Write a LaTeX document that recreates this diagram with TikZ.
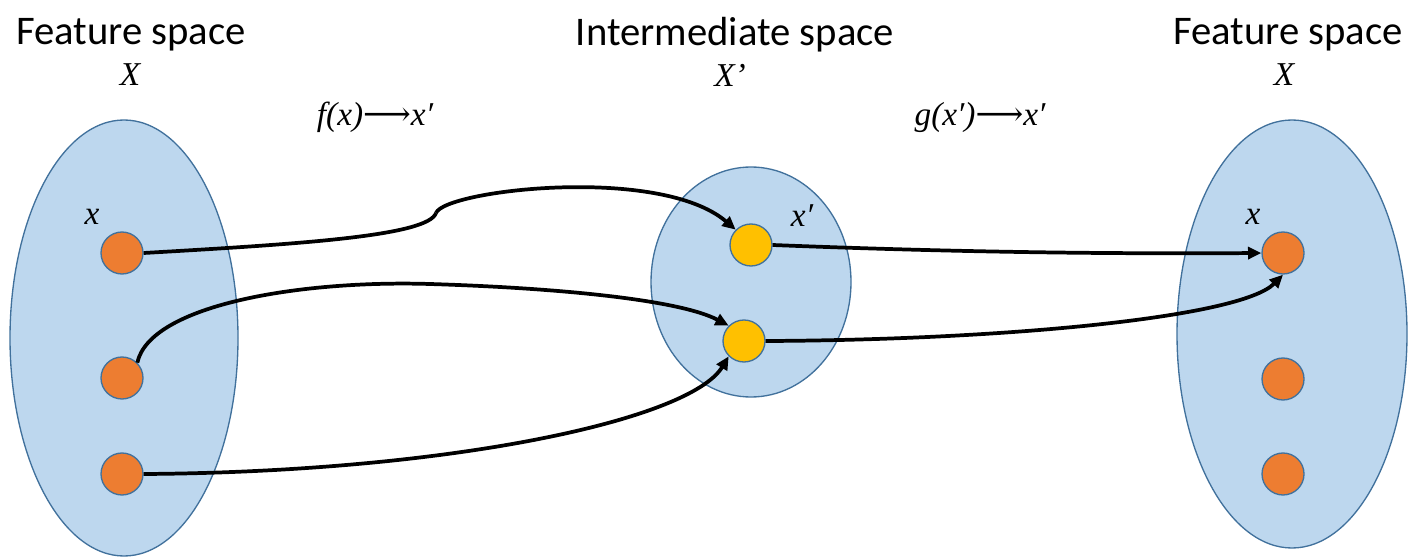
\documentclass[tikz,border=0pt]{standalone}
\usepackage{fontspec}
\setmainfont{Carlito}
\newfontface\serifit{Liberation Serif Italic}
\newfontface\arrowfont{DejaVu Serif}
\usetikzlibrary{arrows.meta}
\definecolor{ellfill}{HTML}{BDD7EE}
\definecolor{ellline}{HTML}{41719C}
\definecolor{dotorange}{HTML}{ED7D31}
\definecolor{dotyellow}{HTML}{FFC000}
\tikzset{
  odot/.style={circle, draw=ellline, fill=dotorange, line width=1pt, minimum size=31.5pt, inner sep=0pt},
  ydot/.style={circle, draw=ellline, fill=dotyellow, line width=1pt, minimum size=31.5pt, inner sep=0pt},
  title/.style={font=\fontsize{30.5}{34}\selectfont, inner sep=0pt},
  mathlbl/.style={font=\serifit\fontsize{25}{28}\selectfont, inner sep=0pt},
  conn/.style={line width=2.8pt, -{Triangle[length=10pt,width=9pt]}},
}
\begin{document}
\begin{tikzpicture}[x=0.75pt,y=-0.75pt]
\useasboundingbox (0,0) rectangle (1419,559);
% ellipses
\draw[ellline, fill=ellfill, line width=1pt] (124,338) ellipse [x radius=114, y radius=218];
\draw[ellline, fill=ellfill, line width=1pt] (751,282) ellipse [x radius=100, y radius=115];
\draw[ellline, fill=ellfill, line width=1pt] (1292,334) ellipse [x radius=115, y radius=214];
% titles
\node[title] (t1) at (131,35) {Feature space};
\node[mathlbl] (X1) at (130,75) {X};
\node[title] (t2) at (735,35) {Intermediate space};
\node[mathlbl] (X2) at (730,75) {X’};
\node[title] (t3) at (1288,35) {Feature space};
\node[mathlbl] (X3) at (1284,75) {X};
\node[mathlbl] (fl) at (375,117) {f(x){\arrowfont\upshape ⟶}x′};
\node[mathlbl] (gl) at (980,117) {g(x′){\arrowfont\upshape ⟶}x′};
% dots
\node[odot] (l1) at (122,253) {};
\node[odot] (l2) at (122,378) {};
\node[odot] (l3) at (122,474) {};
\node[ydot] (m1) at (751,245) {};
\node[ydot] (m2) at (744,341) {};
\node[odot] (r1) at (1283,253) {};
\node[odot] (r2) at (1283,379) {};
\node[odot] (r3) at (1283,474) {};
% point labels
\node[mathlbl] (xl) at (92,217) {x};
\node[mathlbl] (xm) at (802,216) {x′};
\node[mathlbl] (xr) at (1253,217) {x};
% connectors
\coordinate (k1) at (436,213);
\draw[line width=2.8pt] (l1.east) .. controls (300,244) and (428,236) .. (k1);
\draw[conn] (k1) .. controls (445,190) and (660,165) .. (m1.north west);
\draw[conn] (l2.north east) .. controls (150,305) and (300,280) .. (430,284) .. controls (560,288) and (680,300) .. (m2.north west);
\draw[conn] (l3.east) .. controls (450,472) and (690,420) .. (m2.south west);
\draw[conn] (m1.east) .. controls (950,252) and (1100,254) .. (r1.west);
\draw[conn] (m2.east) .. controls (1000,340) and (1240,318) .. (r1.south);
\end{tikzpicture}
\end{document}
